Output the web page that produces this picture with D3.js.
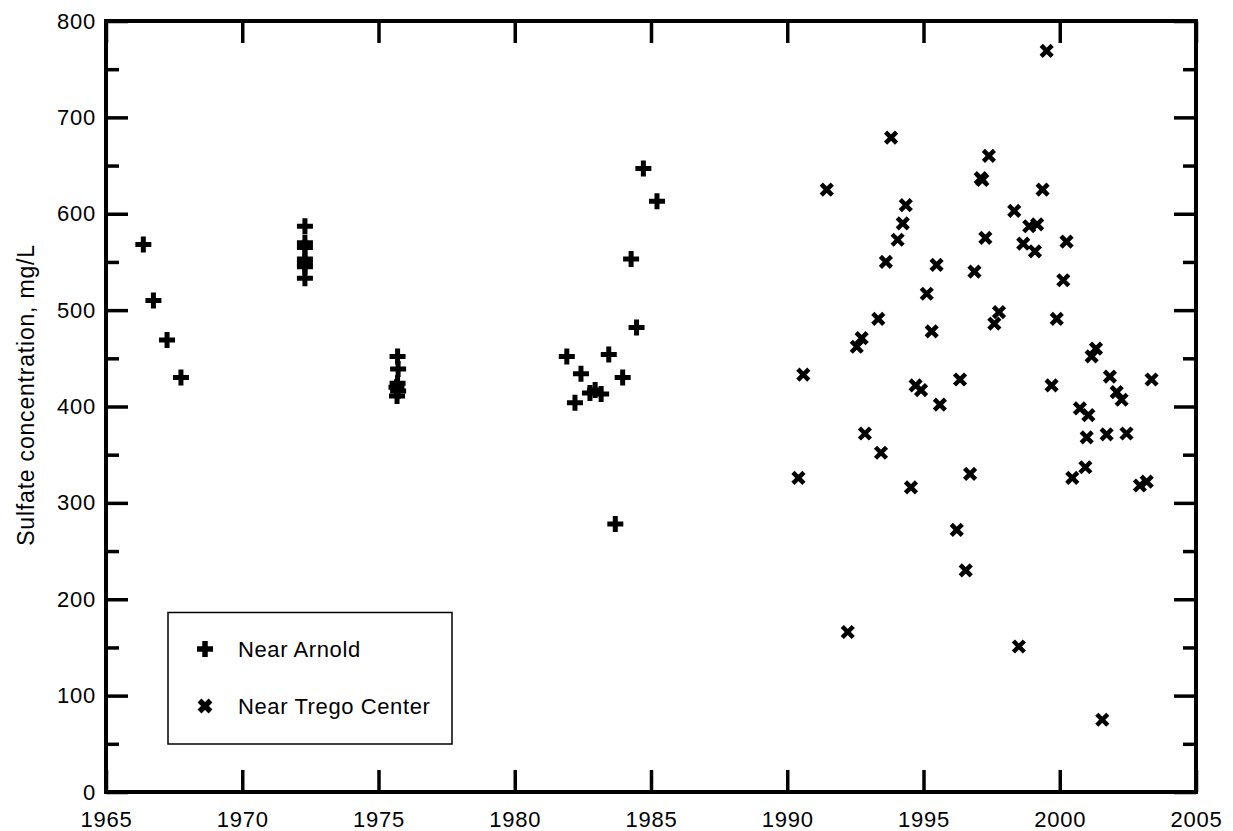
<!DOCTYPE html>
<html>
<head>
<meta charset="utf-8">
<style>
    body { margin: 0; background: #fff; }
    svg { font-family: Arial, 'Liberation Sans', sans-serif; }
    .axis text { font-size: 22px; letter-spacing: 0.8px; fill: #000; }
    .axis line { stroke: #000; stroke-width: 3.5; }
</style>
</head>
<body>
<svg width="1233" height="831"></svg>

<script src="https://d3js.org/d3.v7.min.js"></script>
<script>
    // sulfate near Arnold (year, mg/L)
    let arnoldYear = [1966.37, 1966.74, 1967.24, 1967.75,
        1972.30, 1972.30, 1972.30, 1972.30, 1972.30, 1972.30, 1972.30,
        1975.70, 1975.72, 1975.70, 1975.66, 1975.72, 1975.68,
        1981.91, 1982.21, 1982.43, 1982.76, 1982.95, 1983.17, 1983.45, 1983.69, 1983.96,
        1984.27, 1984.47, 1984.72, 1985.22]
    let arnoldSulfate = [568, 510, 469, 430,
        587, 570, 565, 553, 549, 545, 533,
        452, 439, 424, 420, 416, 411,
        452, 404, 434, 414, 417, 413, 454, 278, 430,
        553, 482, 647, 613]

    // sulfate near Trego Center
    let tregoYear = [1990.41, 1990.59, 1991.45, 1992.22, 1992.55, 1992.73, 1992.85,
        1993.34, 1993.44, 1993.62, 1993.81, 1994.05, 1994.24, 1994.35, 1994.54, 1994.71, 1994.91,
        1995.12, 1995.30, 1995.48, 1995.60, 1996.22, 1996.34, 1996.55, 1996.71, 1996.87,
        1997.10, 1997.16, 1997.27, 1997.40, 1997.60, 1997.77, 1998.33, 1998.50, 1998.66, 1998.88,
        1999.09, 1999.17, 1999.37, 1999.52, 1999.70, 1999.89, 2000.13, 2000.25, 2000.46, 2000.74,
        2000.94, 2000.99, 2001.05, 2001.17, 2001.33, 2001.56, 2001.72, 2001.84, 2002.09, 2002.27,
        2002.45, 2002.94, 2003.19, 2003.37]
    let tregoSulfate = [326, 433, 625, 166, 462, 471, 372,
        491, 352, 550, 679, 573, 590, 609, 316, 422, 417,
        517, 478, 547, 402, 272, 428, 230, 330, 540,
        637, 635, 575, 660, 486, 498, 603, 151, 569, 587,
        561, 589, 625, 769, 422, 491, 531, 571, 326, 398,
        337, 368, 391, 452, 460, 75, 371, 431, 415, 407,
        372, 318, 322, 428]

    let xTicks = [1965, 1970, 1975, 1980, 1985, 1990, 1995, 2000, 2005]
    let yTicks = [0, 100, 200, 300, 400, 500, 600, 700, 800]
    let yMinor = [50, 150, 250, 350, 450, 550, 650, 750]

    let seriesNames = ["Near Arnold", "Near Trego Center"]

    let plotLeft = 106, plotRight = 1196, plotTop = 21, plotBottom = 792

    let svg = d3.select("svg")

    let x = d3.scaleLinear().domain([1965, 2005]).range([plotLeft, plotRight])
    let y = d3.scaleLinear().domain([0, 800]).range([plotBottom, plotTop])

    // bottom axis with labels
    svg.append("g")
        .attr("class", "axis")
        .attr("transform", `translate(0,${plotBottom})`)
        .call(d3.axisBottom(x).tickValues(xTicks).tickFormat(d3.format("d")).tickSize(-22).tickPadding(19))
        .call(g => g.select(".domain").remove())

    // top axis, ticks only
    svg.append("g")
        .attr("class", "axis")
        .attr("transform", `translate(0,${plotTop})`)
        .call(d3.axisTop(x).tickValues(xTicks).tickFormat("").tickSize(-22))
        .call(g => g.select(".domain").remove())

    // left axis
    svg.append("g")
        .attr("class", "axis")
        .attr("transform", `translate(${plotLeft},0)`)
        .call(d3.axisLeft(y).tickValues(yTicks).tickSize(-22).tickPadding(10))
        .call(g => g.select(".domain").remove())
    svg.append("g")
        .attr("class", "axis")
        .attr("transform", `translate(${plotLeft},0)`)
        .call(d3.axisLeft(y).tickValues(yMinor).tickFormat("").tickSize(-13))
        .call(g => g.select(".domain").remove())

    // right axis
    svg.append("g")
        .attr("class", "axis")
        .attr("transform", `translate(${plotRight},0)`)
        .call(d3.axisRight(y).tickValues(yTicks).tickFormat("").tickSize(-22))
        .call(g => g.select(".domain").remove())
    svg.append("g")
        .attr("class", "axis")
        .attr("transform", `translate(${plotRight},0)`)
        .call(d3.axisRight(y).tickValues(yMinor).tickFormat("").tickSize(-13))
        .call(g => g.select(".domain").remove())

    // frame
    svg.append("rect")
        .attr("x", plotLeft)
        .attr("y", plotTop)
        .attr("width", plotRight - plotLeft)
        .attr("height", plotBottom - plotTop)
        .style("fill", "none")
        .style("stroke", "#000")
        .style("stroke-width", 4)

    // y label
    svg.append("text")
        .attr("transform", "translate(34,395) rotate(-90)")
        .attr("text-anchor", "middle")
        .style("font-size", "23px")
        .style("letter-spacing", "0.8px")
        .text("Sulfate concentration, mg/L")

    let plusPath = "M-8,0H8M0,-8V8"
    let timesPath = "M-5.5,-5.5L5.5,5.5M-5.5,5.5L5.5,-5.5"

    let arnold = arnoldYear.map((d, i) => ({ year: d, value: arnoldSulfate[i] }))
    let trego = tregoYear.map((d, i) => ({ year: d, value: tregoSulfate[i] }))

    svg.selectAll(".arnold")
        .data(arnold)
        .join("path")
        .attr("class", "arnold")
        .attr("d", plusPath)
        .attr("transform", d => `translate(${x(d.year)},${y(d.value)})`)
        .style("fill", "none")
        .style("stroke", "#000")
        .style("stroke-width", 5)

    svg.selectAll(".trego")
        .data(trego)
        .join("path")
        .attr("class", "trego")
        .attr("d", timesPath)
        .attr("transform", d => `translate(${x(d.year)},${y(d.value)})`)
        .style("fill", "none")
        .style("stroke", "#000")
        .style("stroke-width", 4.5)

    // legend
    let legend = svg.append("g")
    legend.append("rect")
        .attr("x", 168)
        .attr("y", 612.5)
        .attr("width", 284)
        .attr("height", 131.5)
        .style("fill", "#fff")
        .style("stroke", "#000")
        .style("stroke-width", 1.5)

    let rows = legend.selectAll(".row")
        .data(seriesNames)
        .join("g")
        .attr("transform", (d, i) => `translate(205,${649 + i * 57})`)

    rows.append("path")
        .attr("d", (d, i) => i == 0 ? plusPath : timesPath)
        .style("fill", "none")
        .style("stroke", "#000")
        .style("stroke-width", 5.5)

    rows.append("text")
        .attr("x", 33)
        .attr("dy", "0.36em")
        .style("font-size", "22px")
        .style("letter-spacing", "0.6px")
        .text(d => d)
</script>
</body>
</html>
